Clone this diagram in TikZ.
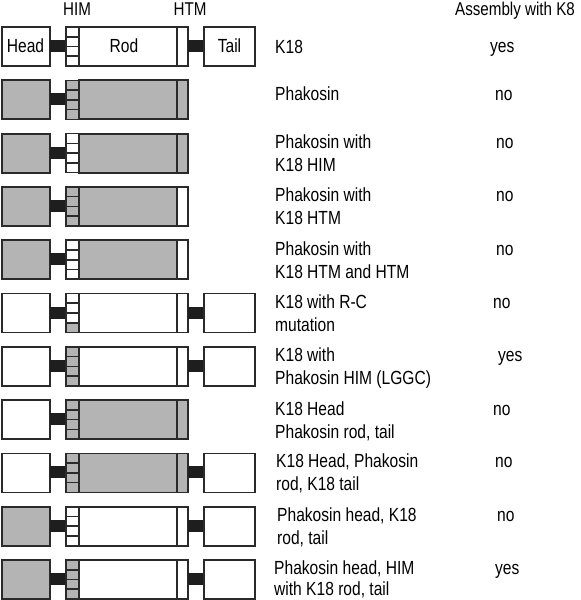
\documentclass[tikz,border=0pt]{standalone}
\usepackage{fontspec}
\setmainfont{Liberation Sans}[FakeStretch=0.82]
\definecolor{ln}{HTML}{2A2A2A}
\definecolor{gr}{HTML}{B4B4B4}
\definecolor{lk}{HTML}{1E1E1E}
\tikzset{
  part/.style={draw=ln, line width=1.8pt, anchor=north west, inner sep=0pt, outer sep=0pt, minimum height=39pt},
  cell/.style={draw=ln, line width=1.6pt, anchor=north west, inner sep=0pt, outer sep=0pt, minimum height=9.75pt, minimum width=13pt},
  linker/.style={fill=lk, draw=none, inner sep=0pt, outer sep=0pt, minimum width=16pt, minimum height=12pt, anchor=north west},
  lbl/.style={anchor=base west, inner sep=0pt, font=\fontsize{19}{23}\selectfont},
  hdr/.style={inner sep=0pt, font=\fontsize{18.5}{22}\selectfont},
  intext/.style={font=\fontsize{19}{23}\selectfont}
}
\newcommand\protrow[6]{% #1 id, #2 top, #3 head, #4 HIM cells, #5 rod, #6 htm
  \node[part, fill=#3, minimum width=48pt] (head#1) at (2,#2) {};
  \node[linker] (lka#1) at (50,{#2+13}) {};
  \foreach \c [count=\k] in {#4} {\node[cell, fill=\c] (him#1-\k) at (66,{#2+(\k-1)*9.75}) {};}
  \node[part, fill=#5, minimum width=98pt] (rod#1) at (79,#2) {};
  \node[part, fill=#6, minimum width=11pt] (htm#1) at (177,#2) {};
}
\newcommand\tailpart[2]{%
  \node[linker] (lkb#1) at (188,{#2+13}) {};
  \node[part, fill=white, minimum width=51pt] (tail#1) at (204,#2) {};
}
\newcommand\twolabel[7]{% id, top, x, line1, line2, answer, answer x
  \node[lbl] (la#1) at (#3,{#2+15}) {#4};
  \node[lbl] (lb#1) at (#3,{#2+38}) {#5};
  \node[lbl] (ans#1) at (#7,{#2+15}) {#6};
}
\begin{document}
\begin{tikzpicture}[x=1pt,y=-1pt]
\useasboundingbox (0,0) rectangle (581,600);
% header
\node[hdr, anchor=base] (hHIM) at (77,15) {HIM};
\node[hdr, anchor=base] (hHTM) at (190,15) {HTM};
\node[hdr, anchor=base west] (hAss) at (455,15) {Assembly with K8};
% row 1
\protrow{1}{27}{white}{white,white,white,white}{white}{white}
\tailpart{1}{27}
\node[intext, anchor=base] (tHead) at (25.5,52.5) {Head};
\node[intext, anchor=base] (tRod) at (124,52.5) {Rod};
\node[intext, anchor=base] (tTail) at (229.5,52.5) {Tail};
\node[lbl] (la1) at (275,53) {K18};
\node[lbl] (ans1) at (490,52) {yes};
% row 2
\protrow{2}{80.3}{gr}{gr,gr,gr,gr}{gr}{gr}
\node[lbl] (la2) at (275,100) {Phakosin};
\node[lbl] (ans2) at (495,100) {no};
% row 3
\protrow{3}{133.6}{gr}{white,white,white,white}{gr}{gr}
\twolabel{3}{133.6}{275}{Phakosin with}{K18 HIM}{no}{496}
% row 4
\protrow{4}{186.9}{gr}{gr,gr,gr,gr}{gr}{white}
\twolabel{4}{186.9}{275}{Phakosin with}{K18 HTM}{no}{496}
% row 5
\protrow{5}{240.2}{gr}{white,white,white,white}{gr}{white}
\twolabel{5}{240.2}{275}{Phakosin with}{K18 HTM and HTM}{no}{496}
% row 6
\protrow{6}{293.5}{white}{white,white,white,gr}{white}{white}
\tailpart{6}{293.5}
\twolabel{6}{293.5}{275}{K18 with R-C}{mutation}{no}{493}
% row 7
\protrow{7}{346.8}{white}{gr,gr,gr,gr}{white}{white}
\tailpart{7}{346.8}
\twolabel{7}{346.8}{275}{K18 with}{Phakosin HIM (LGGC)}{yes}{498}
% row 8
\protrow{8}{400.1}{white}{gr,gr,gr,gr}{gr}{gr}
\twolabel{8}{400.1}{275}{K18 Head}{Phakosin rod, tail}{no}{493}
% row 9
\protrow{9}{453.4}{white}{gr,gr,gr,gr}{gr}{gr}
\tailpart{9}{453.4}
\twolabel{9}{452}{276}{K18 Head, Phakosin}{rod, K18 tail}{no}{495}
% row 10
\protrow{10}{506.7}{gr}{white,white,white,white}{white}{white}
\tailpart{10}{506.7}
\twolabel{10}{506.7}{277}{Phakosin head, K18}{rod, tail}{no}{497}
% row 11
\protrow{11}{560}{gr}{gr,gr,gr,gr}{white}{white}
\tailpart{11}{560}
\node[lbl] (la11) at (274,574) {Phakosin head, HIM};
\node[lbl] (lb11) at (274,595) {with K18 rod, tail};
\node[lbl] (ans11) at (495,574) {yes};
\end{tikzpicture}
\end{document}
